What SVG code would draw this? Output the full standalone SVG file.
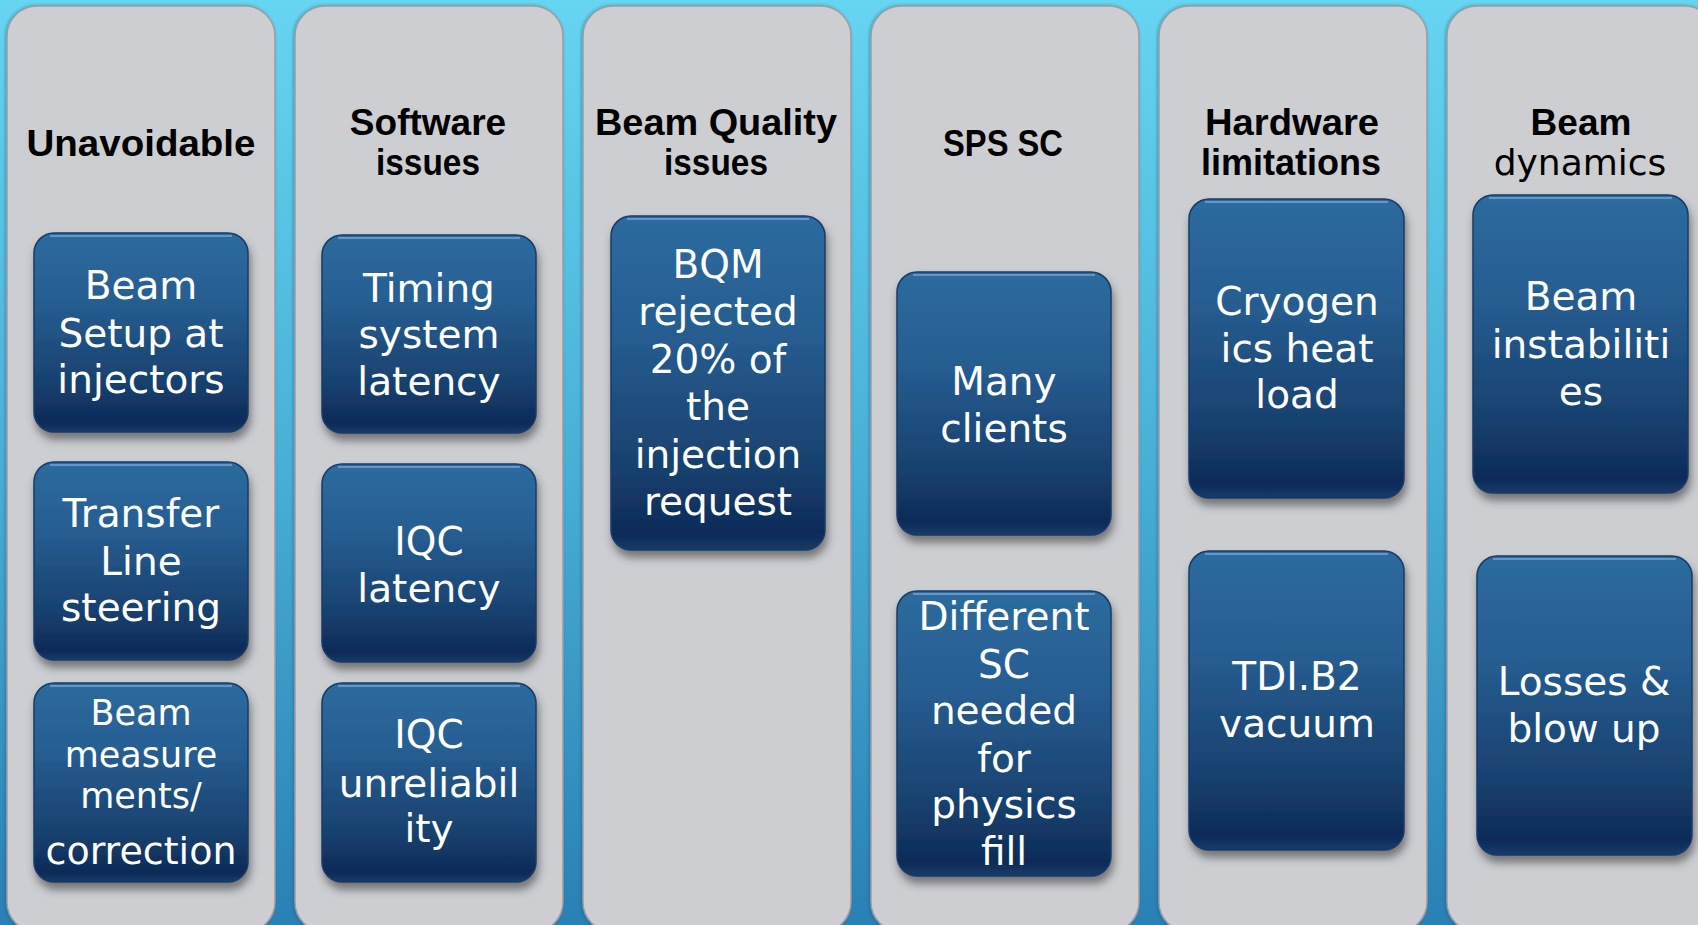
<svg xmlns="http://www.w3.org/2000/svg" width="1698" height="925" viewBox="0 0 1698 925">
  <defs>
    <linearGradient id="bg" x1="0" y1="0" x2="0" y2="1">
      <stop offset="0" stop-color="#66D5F1"/>
      <stop offset="0.5" stop-color="#48B0D6"/>
      <stop offset="1" stop-color="#2A80B4"/>
    </linearGradient>
    <linearGradient id="boxFill" x1="0" y1="0" x2="0" y2="1">
      <stop offset="0" stop-color="#2D6B9E"/>
      <stop offset="0.35" stop-color="#265D91"/>
      <stop offset="0.75" stop-color="#18416F"/>
      <stop offset="0.95" stop-color="#0D2B58"/>
      <stop offset="1" stop-color="#163A68"/>
    </linearGradient>
    <filter id="boxShadow" x="-10%" y="-10%" width="125%" height="125%">
      <feGaussianBlur in="SourceAlpha" stdDeviation="4"/>
      <feOffset dx="2" dy="7" result="blur"/>
      <feFlood flood-color="#3a3a3a" flood-opacity="0.6"/>
      <feComposite in2="blur" operator="in"/>
      <feMerge>
        <feMergeNode/>
        <feMergeNode in="SourceGraphic"/>
      </feMerge>
    </filter>
    <filter id="colShadow" x="-5%" y="-5%" width="110%" height="110%">
      <feGaussianBlur in="SourceAlpha" stdDeviation="1.5"/>
      <feOffset dx="-1" dy="0" result="b"/>
      <feFlood flood-color="#1c4f73" flood-opacity="0.45"/>
      <feComposite in2="b" operator="in"/>
      <feMerge>
        <feMergeNode/>
        <feMergeNode in="SourceGraphic"/>
      </feMerge>
    </filter>
  </defs>
  <style>
    .col { fill: #CDCED2; stroke: #9C9DA2; stroke-width: 1.5; filter: url(#colShadow); }
    .box { fill: url(#boxFill); stroke: #163C6A; stroke-width: 1.5; filter: url(#boxShadow); }
    .shine { fill: none; stroke: #6FA3D2; stroke-width: 2; stroke-opacity: 0.8; }
    .head { font-family: "Liberation Sans", Arial, sans-serif; font-weight: bold; font-size: 37px; fill: #000; text-anchor: middle; }
    .headLight { font-family: "DejaVu Sans", "Liberation Sans", sans-serif; font-weight: normal; font-size: 36px; fill: #000; text-anchor: middle; }
    .lbl { font-family: "DejaVu Sans", "Liberation Sans", sans-serif; font-size: 39px; fill: #FFFFFF; text-anchor: middle; }
    .lblSm { font-family: "DejaVu Sans", "Liberation Sans", sans-serif; font-size: 35px; fill: #FFFFFF; text-anchor: middle; }
    .lblMd { font-family: "DejaVu Sans", "Liberation Sans", sans-serif; font-size: 38px; fill: #FFFFFF; text-anchor: middle; }
  </style>

  <rect width="1698" height="925" fill="url(#bg)"/>

  <!-- column 1 -->
  <g id="col-unavoidable">
    <rect class="col" x="7" y="6" width="268" height="926" rx="30"/>
    <text class="head" x="141" y="156" textLength="229" lengthAdjust="spacingAndGlyphs">Unavoidable</text>
  </g>
  <g id="node-beam-setup">
    <rect class="box" x="34" y="233" width="214" height="199" rx="20"/>
    <path class="shine" d="M50 236 H232"/>
    <text class="lbl" x="141" y="299">Beam</text>
    <text class="lbl" x="141" y="347">Setup at</text>
    <text class="lbl" x="141" y="393">injectors</text>
  </g>
  <g id="node-tl-steering">
    <rect class="box" x="34" y="462" width="214" height="198" rx="20"/>
    <path class="shine" d="M50 465 H232"/>
    <text class="lbl" x="141" y="527">Transfer</text>
    <text class="lbl" x="141" y="575">Line</text>
    <text class="lbl" x="141" y="621">steering</text>
  </g>
  <g id="node-beam-measurements">
    <rect class="box" x="34" y="683" width="214" height="199" rx="20"/>
    <path class="shine" d="M50 686 H232"/>
    <text class="lblSm" x="141" y="725">Beam</text>
    <text class="lblSm" x="141" y="767">measure</text>
    <text class="lblSm" x="141" y="808">ments/</text>
    <text class="lblMd" x="141" y="864">correction</text>
  </g>

  <!-- column 2 -->
  <g id="col-software">
    <rect class="col" x="295" y="6" width="268" height="926" rx="30"/>
    <text class="head" x="428" y="135">Software</text>
    <text class="head" x="428" y="175" textLength="104" lengthAdjust="spacingAndGlyphs">issues</text>
  </g>
  <g id="node-timing">
    <rect class="box" x="322" y="235" width="214" height="198" rx="20"/>
    <path class="shine" d="M338 238 H520"/>
    <text class="lbl" x="429" y="302">Timing</text>
    <text class="lbl" x="429" y="348">system</text>
    <text class="lbl" x="429" y="395">latency</text>
  </g>
  <g id="node-iqc-latency">
    <rect class="box" x="322" y="464" width="214" height="198" rx="20"/>
    <path class="shine" d="M338 467 H520"/>
    <text class="lbl" x="429" y="555">IQC</text>
    <text class="lbl" x="429" y="602">latency</text>
  </g>
  <g id="node-iqc-unreliability">
    <rect class="box" x="322" y="683" width="214" height="199" rx="20"/>
    <path class="shine" d="M338 686 H520"/>
    <text class="lbl" x="429" y="748">IQC</text>
    <text class="lbl" x="429" y="797">unreliabil</text>
    <text class="lbl" x="429" y="842">ity</text>
  </g>

  <!-- column 3 -->
  <g id="col-beam-quality">
    <rect class="col" x="583" y="6" width="268" height="926" rx="30"/>
    <text class="head" x="716" y="135" textLength="242" lengthAdjust="spacingAndGlyphs">Beam Quality</text>
    <text class="head" x="716" y="175" textLength="104" lengthAdjust="spacingAndGlyphs">issues</text>
  </g>
  <g id="node-bqm">
    <rect class="box" x="611" y="216" width="214" height="334" rx="20"/>
    <path class="shine" d="M627 219 H809"/>
    <text class="lbl" x="718" y="278">BQM</text>
    <text class="lbl" x="718" y="325">rejected</text>
    <text class="lbl" x="718" y="373">20% of</text>
    <text class="lbl" x="718" y="420">the</text>
    <text class="lbl" x="718" y="468">injection</text>
    <text class="lbl" x="718" y="515">request</text>
  </g>

  <!-- column 4 -->
  <g id="col-sps-sc">
    <rect class="col" x="871" y="6" width="268" height="926" rx="30"/>
    <text class="head" x="1003" y="156" textLength="120" lengthAdjust="spacingAndGlyphs">SPS SC</text>
  </g>
  <g id="node-many-clients">
    <rect class="box" x="897" y="272" width="214" height="263" rx="20"/>
    <path class="shine" d="M913 275 H1095"/>
    <text class="lbl" x="1004" y="395">Many</text>
    <text class="lbl" x="1004" y="442">clients</text>
  </g>
  <g id="node-different-sc">
    <rect class="box" x="897" y="591" width="214" height="285" rx="20"/>
    <path class="shine" d="M913 594 H1095"/>
    <text class="lbl" x="1004" y="630">Different</text>
    <text class="lbl" x="1004" y="678">SC</text>
    <text class="lbl" x="1004" y="724">needed</text>
    <text class="lbl" x="1004" y="772">for</text>
    <text class="lbl" x="1004" y="818">physics</text>
    <text class="lbl" x="1004" y="865">fill</text>
  </g>

  <!-- column 5 -->
  <g id="col-hardware">
    <rect class="col" x="1159" y="6" width="268" height="926" rx="30"/>
    <text class="head" x="1292" y="135" textLength="174" lengthAdjust="spacingAndGlyphs">Hardware</text>
    <text class="head" x="1291" y="175" textLength="180" lengthAdjust="spacingAndGlyphs">limitations</text>
  </g>
  <g id="node-cryogenics">
    <rect class="box" x="1189" y="199" width="215" height="299" rx="20"/>
    <path class="shine" d="M1205 202 H1388"/>
    <text class="lbl" x="1297" y="315">Cryogen</text>
    <text class="lbl" x="1297" y="362">ics heat</text>
    <text class="lbl" x="1297" y="408">load</text>
  </g>
  <g id="node-tdi-vacuum">
    <rect class="box" x="1189" y="551" width="215" height="299" rx="20"/>
    <path class="shine" d="M1205 554 H1388"/>
    <text class="lbl" x="1297" y="690">TDI.B2</text>
    <text class="lbl" x="1297" y="737">vacuum</text>
  </g>

  <!-- column 6 -->
  <g id="col-beam-dynamics">
    <rect class="col" x="1447" y="6" width="268" height="926" rx="30"/>
    <text class="head" x="1581" y="135">Beam</text>
    <text class="headLight" x="1580" y="175">dynamics</text>
  </g>
  <g id="node-instabilities">
    <rect class="box" x="1473" y="195" width="215" height="298" rx="20"/>
    <path class="shine" d="M1489 198 H1672"/>
    <text class="lbl" x="1581" y="310">Beam</text>
    <text class="lbl" x="1581" y="358">instabiliti</text>
    <text class="lbl" x="1581" y="405">es</text>
  </g>
  <g id="node-losses">
    <rect class="box" x="1477" y="556" width="215" height="299" rx="20"/>
    <path class="shine" d="M1493 559 H1676"/>
    <text class="lbl" x="1584" y="695">Losses &amp;</text>
    <text class="lbl" x="1584" y="742">blow up</text>
  </g>
</svg>
